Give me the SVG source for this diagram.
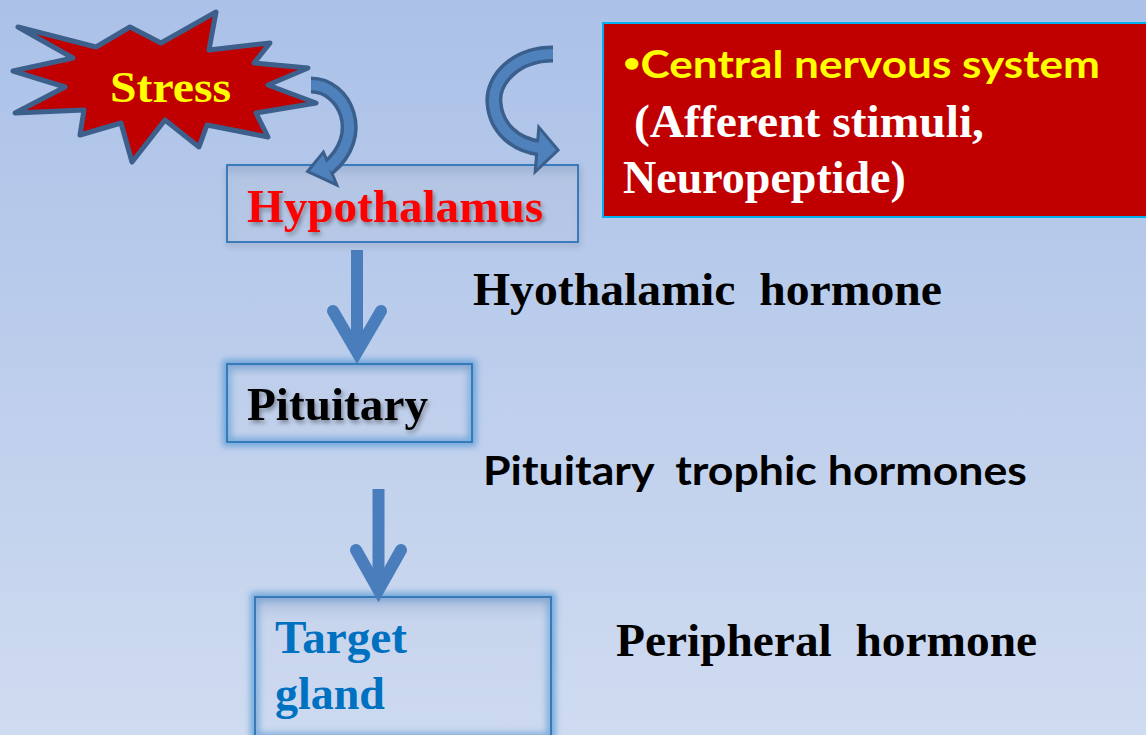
<svg xmlns="http://www.w3.org/2000/svg" width="1146" height="735" viewBox="0 0 1146 735">
<defs>
<linearGradient id="bg" x1="0" y1="0" x2="0" y2="1">
<stop offset="0" stop-color="#abc1e8"/>
<stop offset="1" stop-color="#cfdbf0"/>
</linearGradient>
<filter id="tshadow" x="-10%" y="-30%" width="130%" height="170%">
<feDropShadow dx="2" dy="3" stdDeviation="2" flood-color="#000" flood-opacity="0.35"/>
</filter>
<filter id="glow" x="-20%" y="-30%" width="140%" height="160%">
<feGaussianBlur stdDeviation="3"/>
</filter>
<filter id="bshadow" x="-10%" y="-20%" width="120%" height="150%">
<feDropShadow dx="1" dy="3" stdDeviation="3" flood-color="#000" flood-opacity="0.25"/>
</filter>
<linearGradient id="inner" x1="0" y1="0" x2="0" y2="1">
<stop offset="0" stop-color="#8fa6cc" stop-opacity="0.55"/>
<stop offset="0.18" stop-color="#c3d1ea" stop-opacity="0.3"/>
<stop offset="1" stop-color="#c3d1ea" stop-opacity="0.15"/>
</linearGradient>
</defs>
<style>
.serif{font-family:"Liberation Serif","Times New Roman",serif;font-weight:bold}
.sans{font-family:Lato,"Open Sans","Liberation Sans",sans-serif;font-weight:bold}
.box{fill:url(#inner);stroke:#2e75b6;stroke-width:1.8}
.glowr{fill:none;stroke:#5b9bd5;stroke-width:9;opacity:0.8}
.arr{fill:none;stroke:#4a7dbb;stroke-width:12}
.cdark{fill:none;stroke:#3b5f8c;stroke-width:17}
.clight{fill:none;stroke:#4f81bd;stroke-width:10}
.hdark{fill:#3b5f8c;stroke:#3b5f8c;stroke-width:6;stroke-linejoin:miter}
.hlight{fill:#4f81bd}
</style>
<rect width="1146" height="735" fill="url(#bg)"/>

<g id="stress">
<polygon points="18,27 96,47 130,27 161,43 216,12 209,50 270,43 254,63 308,68 268,85 316,103 256,113 268,137 207,125 199,147 165,120 132,162 121,123 80,135 84,110 15,113 65,87 13,71 73,58" fill="#c00000" stroke="#3d5f8b" stroke-width="5" stroke-linejoin="round"/>
<text class="serif" x="110" y="102" font-size="45" fill="#ffff00" textLength="121" lengthAdjust="spacingAndGlyphs">Stress</text>
</g>

<g id="cns">
<rect x="603" y="23" width="550" height="194" fill="#c00000" stroke="#00b0f0" stroke-width="2"/>
<text class="sans" x="623" y="78" font-size="38" fill="#ffff00" textLength="477" lengthAdjust="spacingAndGlyphs"><tspan font-size="26" dy="-6">•</tspan><tspan dy="6">Central nervous system</tspan></text>
<text class="serif" x="634" y="137" font-size="46" fill="#ffffff" textLength="350" lengthAdjust="spacingAndGlyphs">(Afferent stimuli,</text>
<text class="serif" x="623" y="193" font-size="46" fill="#ffffff">Neuropeptide)</text>
</g>

<g id="hypothalamus">
<rect class="box" x="227" y="165" width="351" height="77" filter="url(#bshadow)"/>
<text class="serif" x="247" y="222" font-size="47" fill="#ff0000" filter="url(#tshadow)" textLength="296" lengthAdjust="spacingAndGlyphs">Hypothalamus</text>
</g>

<g id="pituitary">
<rect class="glowr" x="227" y="364" width="245" height="78" filter="url(#glow)"/>
<rect class="box" x="227" y="364" width="245" height="78"/>
<text class="serif" x="247" y="420" font-size="46" fill="#000000" filter="url(#tshadow)" textLength="181" lengthAdjust="spacingAndGlyphs">Pituitary</text>
</g>

<g id="target">
<rect class="glowr" x="255" y="597" width="296" height="140" filter="url(#glow)"/>
<rect class="box" x="255" y="597" width="296" height="140"/>
<text class="serif" x="275" y="653" font-size="46" fill="#0070c0" textLength="132" lengthAdjust="spacingAndGlyphs">Target</text>
<text class="serif" x="275" y="709" font-size="46" fill="#0070c0">gland</text>
</g>

<g id="labels">
<text class="serif" x="473" y="305" font-size="46" fill="#000" textLength="469" lengthAdjust="spacingAndGlyphs" xml:space="preserve">Hyothalamic  hormone</text>
<text class="sans" x="483" y="485" font-size="40" fill="#000" textLength="544" lengthAdjust="spacingAndGlyphs" xml:space="preserve">Pituitary  trophic hormones</text>
<text class="serif" x="616" y="656" font-size="46" fill="#000" textLength="421" lengthAdjust="spacingAndGlyphs" xml:space="preserve">Peripheral  hormone</text>
</g>

<g id="connectors">
<path class="arr" d="M357,250 V350"/>
<path class="arr" d="M333,311 L357,352 L381,311" stroke-linecap="round" stroke-linejoin="miter"/>
<path class="arr" d="M378.5,489 V590"/>
<path class="arr" d="M356,550 L378.5,590 L401,550" stroke-linecap="round" stroke-linejoin="miter"/>

<path class="cdark" d="M311,85 C345,85 368,135 328,168"/>
<polygon class="hdark" points="310,171 323,155 334,182"/>
<path class="cdark" d="M553,54 C515,54 492,80 494,103 C496,128 515,145 540,148"/>
<polygon class="hdark" points="556,150 540,131 537,168"/>
<polygon class="hlight" points="310,171 323,155 334,182"/>
<path class="clight" d="M311,85 C345,85 368,135 328,168"/>
<polygon class="hlight" points="556,150 540,131 537,168"/>
<path class="clight" d="M553,54 C515,54 492,80 494,103 C496,128 515,145 540,148"/>
</g>
</svg>
